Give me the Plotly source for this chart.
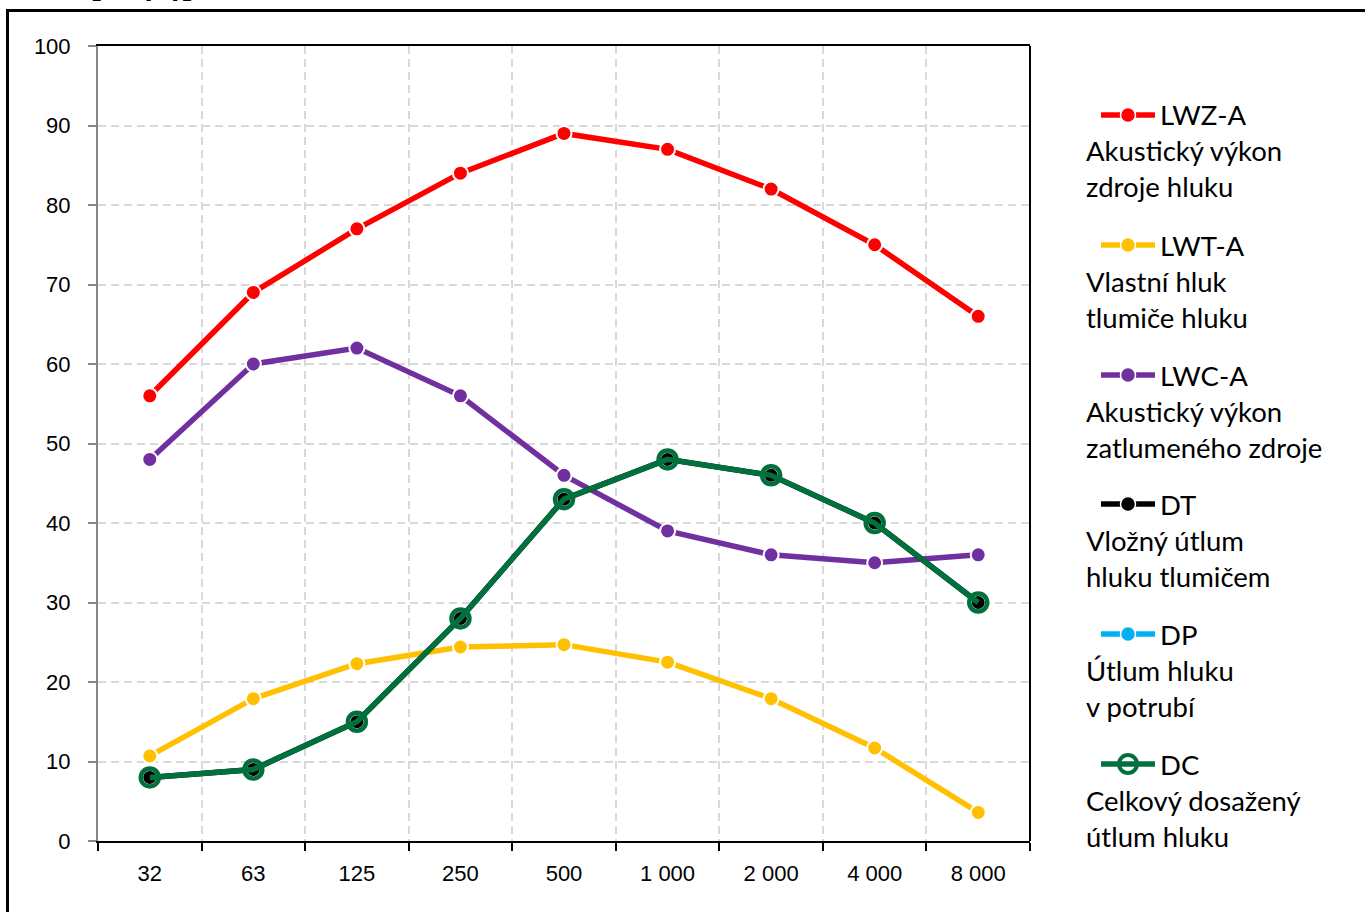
import plotly.graph_objects as go

# ---- data ----
frequencies = ["32", "63", "125", "250", "500", "1 000", "2 000", "4 000", "8 000"]
lwz_a = [56, 69, 77, 84, 89, 87, 82, 75, 66]
lwt_a = [10.7, 17.9, 22.3, 24.4, 24.7, 22.5, 17.9, 11.7, 3.6]
lwc_a = [48, 60, 62, 56, 46, 39, 36, 35, 36]
dt = [8, 9, 15, 28, 43, 48, 46, 40, 30]
dp = [None] * 9
dc = [8, 9, 15, 28, 43, 48, 46, 40, 30]

series_names = ["LWZ-A", "LWT-A", "LWC-A", "DT", "DP", "DC"]
series_desc = [
    ["Akustický výkon", "zdroje hluku"],
    ["Vlastní hluk", "tlumiče hluku"],
    ["Akustický výkon", "zatlumeného zdroje"],
    ["Vložný útlum", "hluku tlumičem"],
    ["Útlum hluku", "v potrubí"],
    ["Celkový dosažený", "útlum hluku"],
]
unit_label = "[dB(A)]"

# ---- styles ----
RED = "#FF0000"
YEL = "#FFC000"
PUR = "#7030A0"
BLK = "#000000"
BLU = "#00B0F0"
GRN = "#00703C"
colors = [RED, YEL, PUR, BLK, BLU, GRN]

W, H = 1365, 912
L, R, T, B = 98, 1030, 46, 841


def px2x(px):
    return (px - L) / (R - L)


def py2y(py):
    return (B - py) / (B - T)


fig = go.Figure()


def std_trace(y, name, color):
    return go.Scatter(
        x=frequencies, y=y, name=name, mode="lines+markers",
        line=dict(color=color, width=5.5),
        marker=dict(symbol="circle", size=15, color=color,
                    line=dict(color="white", width=2)),
        showlegend=False, connectgaps=False,
    )


fig.add_trace(std_trace(lwz_a, "LWZ-A", RED))
fig.add_trace(std_trace(lwt_a, "LWT-A", YEL))
fig.add_trace(std_trace(lwc_a, "LWC-A", PUR))
fig.add_trace(std_trace(dt, "DT", BLK))
fig.add_trace(std_trace(dp, "DP", BLU))
fig.add_trace(go.Scatter(
    x=frequencies, y=dc, name="DC", mode="lines+markers",
    line=dict(color=GRN, width=5.5),
    marker=dict(symbol="circle-open", size=18, color=GRN,
                line=dict(color=GRN, width=4.5)),
    showlegend=False,
))

shapes = []
annotations = []

# outer border
shapes.append(dict(type="rect", xref="paper", yref="paper",
                   x0=px2x(7.5), x1=px2x(1380), y0=py2y(10.5), y1=py2y(930),
                   line=dict(color="black", width=3), fillcolor="rgba(0,0,0,0)",
                   layer="above"))
# right border of plot area
shapes.append(dict(type="line", xref="paper", yref="paper",
                   x0=1, x1=1, y0=0, y1=1,
                   line=dict(color="black", width=2), layer="above"))

# unit label (cut off at the top edge, as in the original)
annotations.append(dict(text="<b>" + unit_label + "</b>", xref="paper", yref="paper",
                        x=px2x(142), y=py2y(3), xanchor="center", yanchor="bottom",
                        showarrow=False,
                        font=dict(family="Liberation Sans, Arial", size=30, color="black")))

# custom legend
LEG_FONT = dict(family="Lato, Calibri, sans-serif", size=27.5, color="black")
leg_y = [115, 245, 375, 504, 634, 764]
for i, (name, desc, col) in enumerate(zip(series_names, series_desc, colors)):
    yy = leg_y[i]
    shapes.append(dict(type="line", xref="paper", yref="paper",
                       x0=px2x(1101), x1=px2x(1155), y0=py2y(yy), y1=py2y(yy),
                       line=dict(color=col, width=5.5)))
    if name == "DC":
        shapes.append(dict(type="circle", xref="paper", yref="paper",
                           xsizemode="pixel", ysizemode="pixel",
                           xanchor=px2x(1128), yanchor=py2y(yy),
                           x0=-9, x1=9, y0=-9, y1=9,
                           line=dict(color=col, width=4), fillcolor="rgba(0,0,0,0)"))
    else:
        shapes.append(dict(type="circle", xref="paper", yref="paper",
                           xsizemode="pixel", ysizemode="pixel",
                           xanchor=px2x(1128), yanchor=py2y(yy),
                           x0=-7.5, x1=7.5, y0=-7.5, y1=7.5,
                           line=dict(color="white", width=1.5), fillcolor=col))
    annotations.append(dict(text=name, xref="paper", yref="paper",
                            x=px2x(1158), y=py2y(yy), xanchor="left", yanchor="middle",
                            showarrow=False, font=LEG_FONT))
    for j, line in enumerate(desc):
        annotations.append(dict(text=line, xref="paper", yref="paper",
                                x=px2x(1084), y=py2y(yy + 36 + 36 * j),
                                xanchor="left", yanchor="middle",
                                showarrow=False, font=LEG_FONT))

fig.update_layout(
    width=W, height=H,
    margin=dict(l=L, r=W - R, t=T, b=H - B, pad=0),
    paper_bgcolor="white", plot_bgcolor="white",
    font=dict(family="Liberation Sans, Arial", size=22, color="black"),
    shapes=shapes, annotations=annotations,
    showlegend=False,
)

fig.update_xaxes(
    type="category", categoryorder="array", categoryarray=frequencies,
    range=[-0.5, 8.5], tickson="boundaries",
    showline=True, linecolor="black", linewidth=2, mirror=True,
    ticks="outside", ticklen=8, tickwidth=2, tickcolor="black",
    showgrid=True, gridcolor="#D9D9D9", gridwidth=2, griddash="8px,5px",
    ticklabelstandoff=12, tickfont=dict(size=22), zeroline=False,
)
fig.update_yaxes(
    range=[0, 100], dtick=10, tick0=0,
    showline=True, linecolor="#868686", linewidth=2,
    ticks="outside", ticklen=8, tickwidth=2, tickcolor="#868686",
    showgrid=True, gridcolor="#D9D9D9", gridwidth=2, griddash="8px,5px",
    ticklabelstandoff=13, tickfont=dict(size=22), zeroline=False,
)

fig.write_html("out.html", config={"displayModeBar": False},
               post_script="document.body.style.margin='0';document.body.style.overflow='hidden';")
